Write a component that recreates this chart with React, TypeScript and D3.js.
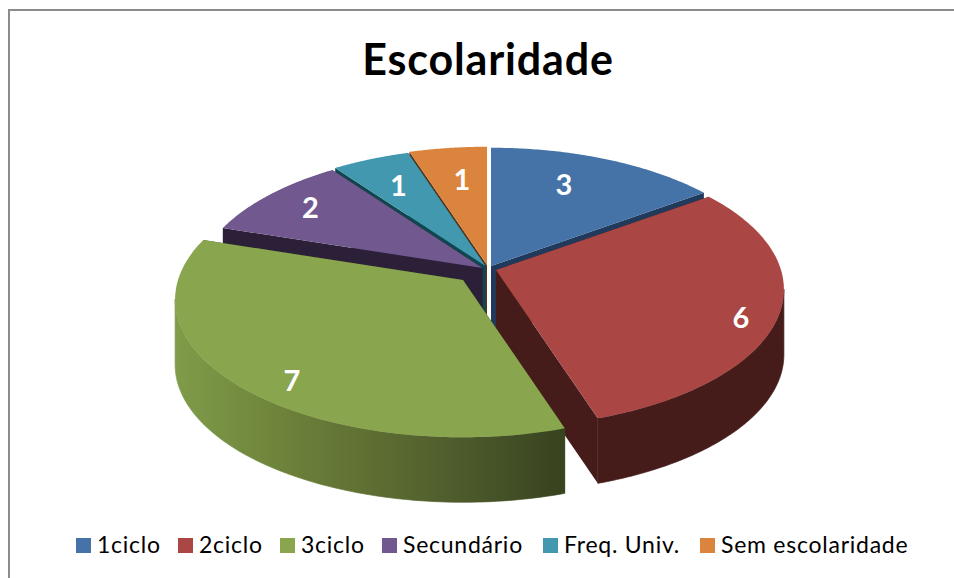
import React from "react";
import * as d3 from "d3";

const title = "Escolaridade";
const categories = ["1ciclo", "2ciclo", "3ciclo", "Secundário", "Freq. Univ.", "Sem escolaridade"];
const values = [3, 6, 7, 2, 1, 1];

const colors = ["#4572A7", "#AA4643", "#89A54E", "#71588F", "#4198AF", "#DB843D"];
const faceColors = ["#213A5C", "#451C1A", "#3A4520", "#2C2039", "#0F4650", "#5A3415"];

// layout: where the tip of each (exploded) slice sits on the page
const apexes: [number, number][] = [[491, 266], [496, 270], [463, 280], [482.5, 268], [485.5, 266], [487, 265]];
const labelOffsets: [number, number][] = [[73, -81], [245, 48], [-171, 101], [-172, -60], [-87, -80], [-25, -85]];
const legendSwatchX = [76, 178, 280, 382, 543, 700];
const drawOrder = [5, 4, 3, 0, 1, 2];

const W = 954, H = 578;
const RX = 285, RY = 135, PERSP = 0.1415, DEPTH = 65;
const WALL_FROM = (98 * Math.PI) / 180, WALL_TO = (262 * Math.PI) / 180;

const arcs = d3.pie<number>().sort(null)(values);

const project = (a: number, apex: [number, number], r = 1): [number, number] => {
  const u = r * Math.sin(a), v = r * Math.cos(a);
  const den = 1 + PERSP * v;
  return [apex[0] + (RX * u) / den, apex[1] - (RY * v) / den];
};
const line = d3.line<[number, number]>().x(d => d[0]).y(d => d[1]);
const down = (p: [number, number]): [number, number] => [p[0], p[1] + DEPTH];

const sweep = (a0: number, a1: number, apex: [number, number]) =>
  d3.range(0, 1.0001, 1 / 90).map(t => project(a0 + (a1 - a0) * t, apex));

export default function App() {
  return (
    <svg width={W} height={H} viewBox={`0 0 ${W} ${H}`} style={{ position: "absolute", left: 0, top: 0, background: "#fff" }}>
      <defs>
        <linearGradient id="greenWall" gradientUnits="userSpaceOnUse" x1={175} x2={563} y1={0} y2={0}>
          <stop offset="0" stopColor="#7F9C49" />
          <stop offset="0.3" stopColor="#6C8039" />
          <stop offset="0.7" stopColor="#505E2D" />
          <stop offset="1" stopColor="#38431F" />
        </linearGradient>
      </defs>
      <path d={`M9,578V10H954`} fill="none" stroke="#8C8C8C" strokeWidth={2} />
      <text x={488} y={75} textAnchor="middle" fontFamily="Lato, 'Open Sans', sans-serif" fontWeight={700} fontSize={43} letterSpacing={0.85} fill="#000">
        {title}
      </text>
      {drawOrder.map(i => {
        const arc = arcs[i];
        const apex = apexes[i];
        const rim = sweep(arc.startAngle, arc.endAngle, apex);
        const wa0 = Math.max(arc.startAngle, WALL_FROM), wa1 = Math.min(arc.endAngle, WALL_TO);
        const wallRim = wa1 > wa0 ? sweep(wa0, wa1, apex) : [];
        const wall = wallRim.length ? [...wallRim, ...wallRim.slice().reverse().map(down)] : [];
        const facePts = (a: number) => {
          const p = project(a, apex);
          return [apex, p, down(p), down(apex)] as [number, number][];
        };
        const wallPaint = i === 2 ? "url(#greenWall)" : faceColors[i];
        return (
          <g key={categories[i]}>
            <path d={line(facePts(arc.startAngle)) + "Z"} fill={faceColors[i]} />
            <path d={line(facePts(arc.endAngle)) + "Z"} fill={faceColors[i]} />
            {wall.length > 0 && (
              <path d={line(wall) + "Z"} fill={wallPaint} stroke={wallPaint} strokeWidth={0.7} />
            )}
            <path d={line([apex, ...rim]) + "Z"} fill={colors[i]} />
          </g>
        );
      })}
      {values.map((v, i) => (
        <text key={i} x={apexes[i][0] + labelOffsets[i][0]} y={apexes[i][1] + labelOffsets[i][1] + 10}
          textAnchor="middle" fontFamily="Lato, 'Open Sans', sans-serif" fontWeight={700} fontSize={29} fill="#fff">
          {v}
        </text>
      ))}
      {categories.map((c, i) => (
        <g key={c}>
          <rect x={legendSwatchX[i]} y={538} width={15} height={15} fill={colors[i]} />
          <text x={legendSwatchX[i] + 21} y={553} fontFamily="Lato, 'Open Sans', sans-serif" fontSize={23} letterSpacing={0.75} fill="#000">
            {c}
          </text>
        </g>
      ))}
    </svg>
  );
}
